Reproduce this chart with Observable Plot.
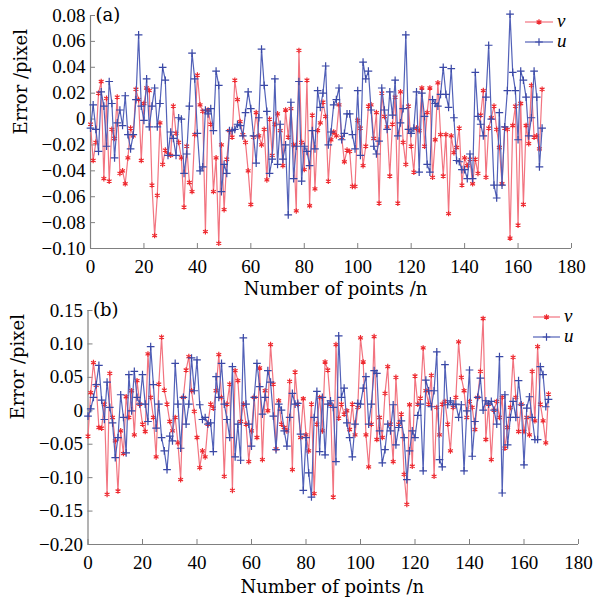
<!DOCTYPE html>
<html><head><meta charset="utf-8">
<script src="https://cdn.jsdelivr.net/npm/d3@7"></script>
<script src="https://cdn.jsdelivr.net/npm/@observablehq/plot@0.6"></script>
<style>
body{margin:0;background:#fff;}
#wrap{position:relative;width:610px;height:599px;background:#fff;}
#wrap > svg{position:absolute;left:0;}
</style></head><body><div id="wrap"></div>
<script>
// point index (x categories)
const pointIndex = d3.range(0, 170);
const xTicks = [0,20,40,60,80,100,120,140,160,180];
const yTicksA = [-0.10,-0.08,-0.06,-0.04,-0.02,0,0.02,0.04,0.06,0.08];
const yTicksB = [-0.20,-0.15,-0.10,-0.05,0,0.05,0.10,0.15];
const seriesNames = ["v","u"];
const panelTags = ["(a)","(b)"];
const xLabel = "Number of points /n";
const yLabel = "Error /pixel";

// panel (a)
const vA = [
-0.004,-0.032,-0.018,0.020,0.029,-0.046,0.016,-0.048,-0.008,-0.015,
0.017,-0.042,-0.040,-0.050,-0.030,-0.007,-0.013,0.023,0.015,-0.032,
0.012,0.024,0.022,-0.051,-0.090,-0.059,-0.003,-0.035,-0.024,-0.027,
-0.028,0.010,-0.011,-0.018,-0.030,-0.068,-0.021,-0.049,-0.056,-0.012,
0.034,0.011,0.006,-0.087,0.007,-0.004,-0.056,-0.030,-0.096,-0.020,
-0.070,-0.031,-0.009,-0.014,0.030,0.015,-0.002,-0.012,-0.018,-0.040,
-0.066,-0.014,0.005,-0.013,-0.020,-0.008,-0.047,0.000,-0.028,-0.004,
0.004,-0.009,-0.036,0.007,-0.014,0.008,-0.020,-0.071,0.053,-0.018,
-0.039,0.030,-0.067,0.003,-0.054,-0.009,-0.003,0.013,0.002,-0.048,
-0.016,-0.010,-0.013,0.011,-0.014,-0.033,-0.024,-0.025,-0.052,-0.052,
-0.001,-0.007,-0.036,-0.021,0.010,0.011,-0.015,0.005,-0.065,0.020,
0.002,-0.006,-0.044,-0.004,0.017,-0.065,0.021,-0.018,-0.035,0.010,
-0.021,-0.041,-0.007,-0.009,0.024,-0.021,0.005,0.024,-0.045,-0.016,
0.028,-0.012,-0.044,-0.012,-0.073,-0.013,-0.026,-0.022,-0.007,-0.051,
-0.030,-0.036,-0.031,-0.050,-0.031,-0.042,0.003,0.022,-0.045,-0.007,
0.001,0.010,-0.008,-0.022,-0.050,-0.007,-0.008,-0.092,-0.005,0.010,
-0.082,0.012,-0.066,-0.005,-0.019,0.026,-0.014,-0.013,-0.023,0.023];
const uA = [
-0.007,0.011,-0.008,-0.025,0.021,0.010,-0.021,0.029,0.012,-0.030,
-0.003,0.007,-0.005,0.018,-0.012,-0.023,-0.012,0.015,0.065,0.010,
-0.001,0.031,-0.006,0.010,0.024,-0.006,0.012,0.040,0.030,-0.028,
-0.010,-0.015,-0.028,0.001,0.000,-0.042,-0.027,0.010,0.051,0.031,
-0.011,-0.040,-0.037,0.007,0.004,0.008,-0.009,0.037,0.026,-0.056,
-0.035,-0.042,-0.009,-0.009,-0.008,-0.004,-0.005,-0.013,0.005,0.021,
0.008,-0.013,-0.034,0.001,0.054,0.026,0.006,-0.042,-0.031,0.031,
-0.035,-0.004,-0.031,-0.020,-0.074,0.013,-0.046,-0.021,0.029,-0.048,
-0.021,-0.025,-0.036,-0.009,-0.023,0.022,0.009,0.020,0.041,-0.020,
-0.010,0.011,0.015,0.024,-0.016,-0.011,0.004,0.004,-0.012,-0.023,
0.022,-0.028,0.044,0.031,0.037,0.007,-0.021,-0.027,-0.017,0.024,
0.007,-0.008,0.021,0.003,0.030,-0.013,-0.003,0.008,0.065,-0.008,
-0.011,-0.007,0.021,-0.041,0.020,0.002,-0.035,-0.041,0.015,0.012,
0.010,0.019,0.040,0.019,0.009,0.039,0.001,-0.032,-0.033,-0.039,
-0.039,-0.046,-0.027,-0.046,0.036,0.002,-0.004,-0.013,0.017,0.057,
0.000,-0.051,-0.061,0.005,-0.051,-0.006,0.022,0.081,0.036,0.022,
-0.016,0.037,0.030,0.017,-0.013,0.001,0.037,0.017,-0.037,-0.007];

// panel (b)
const vB = [
-0.038,0.027,0.072,0.038,-0.025,-0.026,0.010,-0.125,0.056,-0.010,
-0.045,-0.120,-0.030,-0.064,0.021,-0.010,0.030,-0.036,0.045,0.010,
-0.020,-0.031,0.085,0.020,-0.010,-0.069,0.040,0.110,0.031,0.010,
-0.016,-0.030,-0.010,-0.048,-0.103,0.020,0.061,0.081,0.030,-0.001,
-0.040,-0.085,-0.060,-0.069,-0.020,0.010,0.004,0.030,0.084,0.020,
-0.098,0.010,0.040,-0.119,0.060,0.045,-0.016,0.010,-0.020,-0.076,
-0.030,0.020,-0.040,0.064,-0.073,0.030,0.000,0.099,0.040,-0.057,
0.015,-0.020,-0.025,-0.030,0.044,-0.088,0.058,0.010,-0.040,0.018,
-0.036,-0.060,0.010,-0.124,-0.020,0.020,-0.030,0.073,0.061,0.010,
-0.129,0.099,-0.011,0.010,-0.005,0.000,-0.028,0.010,-0.036,0.005,
0.109,0.073,-0.036,-0.084,-0.020,0.111,-0.043,-0.010,-0.040,0.026,
0.066,-0.020,-0.076,0.050,-0.020,-0.005,-0.095,-0.140,0.009,-0.083,
0.052,0.010,0.019,0.094,0.030,0.010,0.053,-0.098,0.005,-0.036,
0.010,0.014,-0.020,-0.060,0.005,0.020,0.103,0.050,0.030,-0.010,
0.014,0.005,-0.028,0.020,0.059,0.138,-0.043,0.010,-0.073,0.001,
0.014,-0.010,0.020,-0.056,-0.025,0.005,0.080,0.020,-0.031,0.010,
-0.031,-0.010,-0.036,0.059,-0.015,0.096,0.010,-0.015,-0.048,0.025];
const uB = [
-0.008,0.003,0.020,0.039,0.068,0.016,-0.013,0.043,0.005,-0.018,
-0.070,-0.040,0.024,-0.010,-0.063,0.054,0.000,0.059,0.020,0.010,
0.054,0.010,-0.016,0.096,0.039,-0.026,0.010,-0.040,-0.060,-0.088,
-0.038,-0.045,0.071,0.010,-0.056,0.020,-0.020,0.010,0.079,0.030,
0.076,0.009,-0.013,-0.010,-0.020,-0.018,-0.061,0.051,0.020,0.071,
0.010,-0.013,-0.040,0.066,-0.069,-0.020,-0.074,0.109,0.010,-0.020,
-0.053,0.020,0.071,0.036,-0.005,0.020,0.060,0.043,-0.008,-0.058,
0.010,0.001,-0.030,-0.053,-0.010,0.026,0.010,0.011,-0.035,-0.119,
-0.040,-0.093,-0.129,-0.010,0.029,-0.061,0.020,-0.066,0.010,0.015,
0.005,-0.076,0.112,0.020,0.034,-0.018,-0.040,-0.069,-0.020,0.011,
0.010,0.034,0.051,-0.020,0.010,0.060,0.056,-0.030,-0.078,-0.058,
-0.020,-0.030,0.009,-0.051,-0.025,-0.015,-0.040,-0.103,-0.060,-0.030,
-0.040,-0.007,0.010,-0.090,0.046,0.030,0.006,0.030,0.088,-0.073,
-0.084,0.069,0.009,0.015,0.009,0.010,-0.010,0.009,-0.090,0.000,
0.061,-0.068,-0.016,0.020,0.049,0.001,0.015,0.010,0.014,0.001,
-0.020,0.081,-0.123,0.024,-0.051,-0.010,0.014,-0.010,0.045,0.009,
-0.081,0.004,0.021,-0.010,-0.043,-0.043,0.066,0.054,0.006,0.017];

const axisColor = "#808080";
const redLine = "#f27480", redMark = "#ee2a30";
const blueLine = "#5261b8", blueMark = "#3a48a6";
const serif = "'Liberation Serif', 'Times New Roman', serif";
const serif2 = "'DejaVu Serif', serif";
const fmtY = d => d === 0 ? "0" : d3.format(".2f")(d);

function makePanel(o) {
  const data = pointIndex.map((n, i) => ({n, v: o.v[i], u: o.u[i]}));
  const [y0, y1] = o.yDomain;
  const fw = o.width - o.ml - o.mr, fh = o.height - o.mt - o.mb;
  const tx = 5 * 180 / fw, ty = 5 * (y1 - y0) / fh;
  const svg = Plot.plot({
    width: o.width, height: o.height,
    marginTop: o.mt, marginBottom: o.mb, marginLeft: o.ml, marginRight: o.mr,
    style: {fontFamily: serif, fontSize: "19px", color: "#000", background: "transparent", overflow: "visible"},
    x: {domain: [0, 180]},
    y: {domain: o.yDomain},
    marks: [
      Plot.axisX({ticks: xTicks, tickSize: 0, tickPadding: 11, tickFormat: d => String(d), label: null, fontSize: 19}),
      Plot.axisY({ticks: o.yTicks, tickSize: 0, tickPadding: 5, tickFormat: fmtY, label: null, fontSize: 19}),
      Plot.ruleX([0], {stroke: axisColor, strokeWidth: 1.2}),
      Plot.ruleY([y0], {stroke: axisColor, strokeWidth: 1.2}),
      Plot.ruleX(xTicks, {x: d => d, y1: y0, y2: y0 + ty, stroke: axisColor}),
      Plot.ruleY(o.yTicks, {y: d => d, x1: 0, x2: tx, stroke: axisColor}),
      Plot.line(data, {x: "n", y: "v", stroke: redLine, strokeWidth: 1.2}),
      Plot.dot(data, {x: "n", y: "v", symbol: "asterisk", r: 2.6, stroke: redMark, strokeWidth: 1.2}),
      Plot.line(data, {x: "n", y: "u", stroke: blueLine, strokeWidth: 1.2}),
      Plot.dot(data, {x: "n", y: "u", symbol: "plus", r: 2.6, stroke: blueMark, strokeWidth: 1.2}),
      Plot.text([o.tag], {frameAnchor: "top-left", textAnchor: "start", lineAnchor: "top", dx: 5, dy: -7, fontSize: 18, fontFamily: serif2}),
      Plot.text([xLabel], {frameAnchor: "bottom", lineAnchor: "middle", dx: o.xlDx, dy: o.xlDy, fontSize: 18, fontFamily: serif2}),
      Plot.text([yLabel], {frameAnchor: "left", lineAnchor: "middle", rotate: -90, dx: o.ylDx, dy: o.ylDy, fontSize: 18, fontFamily: serif2})
    ]
  });
  svg.style.top = o.top + "px";
  return svg;
}

const wrap = document.getElementById("wrap");
wrap.appendChild(makePanel({v: vA, u: uA, yDomain: [-0.10, 0.08], yTicks: yTicksA, tag: panelTags[0],
  width: 610, height: 299, mt: 15, mb: 51, ml: 90, mr: 39, top: 0,
  xlDx: 4.5, xlDy: 41, ylDx: -69, ylDy: 2.5}));
wrap.appendChild(makePanel({v: vB, u: uB, yDomain: [-0.20, 0.15], yTicks: yTicksB, tag: panelTags[1],
  width: 610, height: 300, mt: 11, mb: 55, ml: 87.5, mr: 32, top: 299,
  xlDx: -1, xlDy: 43, ylDx: -69.5, ylDy: -8}));

// legends
const legendBoxes = [{x1: 525, x2: 553, y: 22}, {x1: 533, x2: 560, y: 317}];
const leg = d3.select(wrap).append("svg").attr("width", 610).attr("height", 599)
  .style("top", "0px").style("pointer-events", "none").style("overflow", "visible");
const styles = [
  {line: redLine, mark: redMark, sym: d3.symbolAsterisk},
  {line: blueLine, mark: blueMark, sym: d3.symbolPlus}
];
legendBoxes.forEach(b => {
  seriesNames.forEach((name, i) => {
    const y = b.y + i * 20, s = styles[i];
    leg.append("line").attr("x1", b.x1).attr("x2", b.x2).attr("y1", y).attr("y2", y)
      .attr("stroke", s.line).attr("stroke-width", 1.2);
    leg.append("path").attr("d", d3.symbol(s.sym, Math.PI * 2.6 * 2.6)())
      .attr("transform", `translate(${(b.x1 + b.x2) / 2},${y})`)
      .attr("fill", "none").attr("stroke", s.mark).attr("stroke-width", 1.2);
    leg.append("text").attr("x", b.x2 + 4).attr("y", y + 5).text(name)
      .attr("font-family", serif).attr("font-style", "italic").attr("font-size", 19).attr("fill", "#000");
  });
});
</script>
</body></html>
